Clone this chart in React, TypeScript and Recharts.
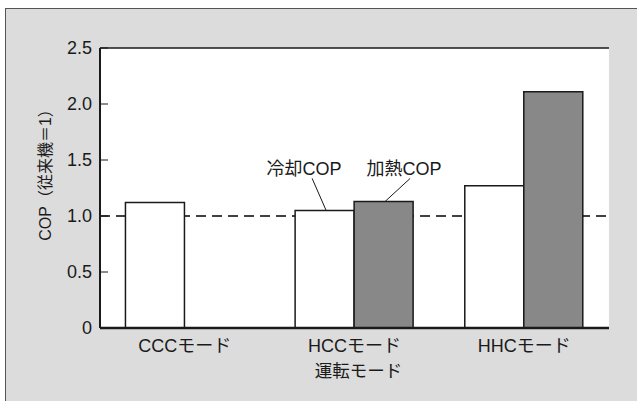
import React from 'react';
import {
  BarChart,
  Bar,
  XAxis,
  YAxis,
  CartesianGrid,
  ReferenceLine,
  LabelList,
} from 'recharts';

const categories = ['CCCモード', 'HCCモード', 'HHCモード'];
const coolingCop = [1.12, 1.05, 1.27];
const heatingCop = [null, 1.13, 2.11];
const yTicks = [0, 0.5, 1.0, 1.5, 2.0, 2.5];
const baseline = [1];

const data = categories.map((name, i) => ({
  name,
  cooling: coolingCop[i],
  heating: heatingCop[i],
}));

const FONT = '"Liberation Sans", "Noto Sans CJK JP", sans-serif';
const INK = '#1a1a1a';

// leader-line callouts on the HCC pair only
const coolingNote = (props: any) => {
  const { x, y, value } = props;
  if (value !== coolingCop[1]) return null;
  return (
    <g>
      <text x={x + 9} y={y - 41} textAnchor="middle" dominantBaseline="central"
        fontSize={18} fontFamily={FONT} fill={INK}>冷却COP</text>
      <line x1={x + 17} y1={y - 32} x2={x + 31} y2={y} stroke={INK} strokeWidth={1} />
    </g>
  );
};

const heatingNote = (props: any) => {
  const { x, y, value } = props;
  if (value !== heatingCop[1]) return null;
  return (
    <g>
      <text x={x + 50} y={y - 32} textAnchor="middle" dominantBaseline="central"
        fontSize={18} fontFamily={FONT} fill={INK}>加熱COP</text>
      <line x1={x + 56} y1={y - 23} x2={x + 31} y2={y} stroke={INK} strokeWidth={1} />
    </g>
  );
};

const App: React.FC = () => {
  return (
    <div style={{ position: 'absolute', left: 0, top: 0, width: 637, height: 401, background: '#fff' }}>
      <div
        style={{
          position: 'absolute',
          left: 5,
          top: 8,
          width: 632,
          height: 393,
          background: '#dcdcdc',
          borderLeft: '1.5px solid #555',
          borderTop: '1.5px solid #555',
        }}
      />
      <div style={{ position: 'absolute', left: 0, top: 0 }}>
        <BarChart
          width={637}
          height={401}
          data={data}
          margin={{ top: 48, right: 28, bottom: 43, left: 40 }}
          barCategoryGap="15%"
          barGap={0}
        >
          {/* white plot area + dashed reference at 1.0, kept behind the bars */}
          <CartesianGrid
            fill="#fff"
            vertical={false}
            horizontalValues={baseline}
            stroke="#000"
            strokeWidth={1.5}
            strokeDasharray="10 6"
          />
          <XAxis
            dataKey="name"
            height={30}
            tickLine={false}
            tickMargin={5}
            axisLine={{ stroke: INK, strokeWidth: 2.5 }}
            tick={{ fontSize: 18, fontFamily: FONT, fill: INK }}
            label={{
              content: (p: any) => {
                const vb = p.viewBox;
                return (
                  <text x={vb.x + vb.width / 2 + 4} y={vb.y + 43} textAnchor="middle" dominantBaseline="central"
                    fontSize={17.5} fontFamily={FONT} fill={INK}>運転モード</text>
                );
              },
            }}
          />
          <YAxis
            width={60}
            domain={[0, 2.5]}
            ticks={yTicks}
            tickSize={-8}
            tickMargin={16}
            interval={0}
            tickFormatter={(v: number) => (v === 0 ? '0' : v.toFixed(1))}
            tickLine={{ stroke: INK, strokeWidth: 1 }}
            axisLine={{ stroke: INK, strokeWidth: 2 }}
            tick={{ fontSize: 18, fontFamily: FONT, fill: INK }}
            label={{
              content: (p: any) => {
                const vb = p.viewBox;
                const cx = 45;
                const cy = vb.y + vb.height / 2 - 17;
                return (
                  <text x={cx} y={cy} transform={`rotate(-90 ${cx} ${cy})`} textAnchor="middle"
                    dominantBaseline="central" fontSize={16} fontFamily={FONT} fill={INK}>
                    COP（従来機＝1）
                  </text>
                );
              },
            }}
          />
          <YAxis
            yAxisId="r"
            orientation="right"
            width={0}
            domain={[0, 2.5]}
            tick={false}
            tickLine={false}
            axisLine={{ stroke: INK, strokeWidth: 1.5 }}
          />
          <ReferenceLine y={2.5} stroke={INK} strokeWidth={1.5} />
          <Bar dataKey="cooling" fill="#fff" stroke={INK} strokeWidth={1.5} isAnimationActive={false}>
            <LabelList dataKey="cooling" content={coolingNote} />
          </Bar>
          <Bar dataKey="heating" fill="#888" stroke={INK} strokeWidth={1.5} isAnimationActive={false}>
            <LabelList dataKey="heating" content={heatingNote} />
          </Bar>
        </BarChart>
      </div>
    </div>
  );
};

export default App;
